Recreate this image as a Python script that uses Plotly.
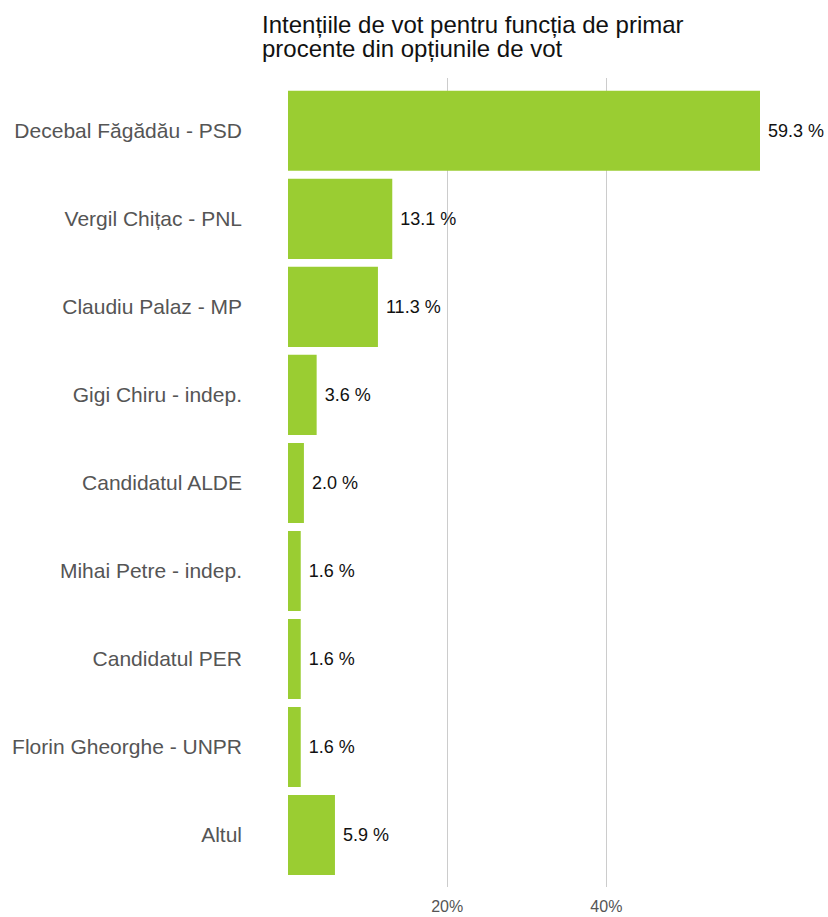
import plotly.graph_objects as go

candidates = [
    "Decebal Făgădău - PSD",
    "Vergil Chițac - PNL",
    "Claudiu Palaz - MP",
    "Gigi Chiru - indep.",
    "Candidatul ALDE",
    "Mihai Petre - indep.",
    "Candidatul PER",
    "Florin Gheorghe - UNPR",
    "Altul",
]
percent = [59.3, 13.1, 11.3, 3.6, 2.0, 1.6, 1.6, 1.6, 5.9]
tick_values = [20, 40]
tick_labels = ["20%", "40%"]
title_lines = [
    "Intențiile de vot pentru funcția de primar",
    "procente din opțiunile de vot",
]

W, H = 828, 917
ML, MR, MT, MB = 288, 68, 78, 30
plot_w = W - ML - MR
plot_h = H - MT - MB

fig = go.Figure()

fig.add_trace(
    go.Bar(
        x=percent,
        y=candidates,
        orientation="h",
        marker=dict(color="#9ACD32", line=dict(width=0)),
        text=[f" {v:.1f} %" for v in percent],
        textposition="outside",
        textfont=dict(family="Liberation Sans, Arial", size=18, color="#111111"),
        cliponaxis=False,
        hoverinfo="x+y",
    )
)

fig.update_layout(
    width=W,
    height=H,
    plot_bgcolor="white",
    paper_bgcolor="white",
    bargap=0.09,
    showlegend=False,
    font=dict(family="Liberation Sans, Arial", color="#555555"),
    margin=dict(l=ML, r=MR, t=MT, b=MB, autoexpand=False),
)

# title as two left-aligned lines, tightly spaced like the original
for line, bottom in zip(title_lines, [40, 64]):
    fig.add_annotation(
        text=line,
        xref="paper",
        yref="paper",
        x=(260 - ML) / plot_w,
        y=(MT + plot_h - bottom) / plot_h,
        xanchor="left",
        yanchor="bottom",
        showarrow=False,
        font=dict(family="Liberation Sans, Arial", size=24, color="#111111"),
    )

fig.update_xaxes(
    range=[0, 59.3],
    tickvals=tick_values,
    ticktext=tick_labels,
    showgrid=True,
    gridcolor="#CCCCCC",
    gridwidth=1,
    zeroline=False,
    showline=False,
    automargin=False,
    ticks="",
    ticklabelstandoff=8,
    tickfont=dict(size=16, color="#555555"),
)

fig.update_yaxes(
    categoryorder="array",
    categoryarray=candidates,
    autorange=False,
    range=[8.59, -0.6],
    showgrid=False,
    zeroline=False,
    showline=False,
    automargin=False,
    ticks="",
    ticklabelstandoff=45,
    tickfont=dict(size=21, color="#555555"),
)

# drop the page's default body margin so the figure fills the window
fig.write_html(
    "out.html",
    config={"displayModeBar": False},
    post_script="document.body.style.margin = '0';",
)
